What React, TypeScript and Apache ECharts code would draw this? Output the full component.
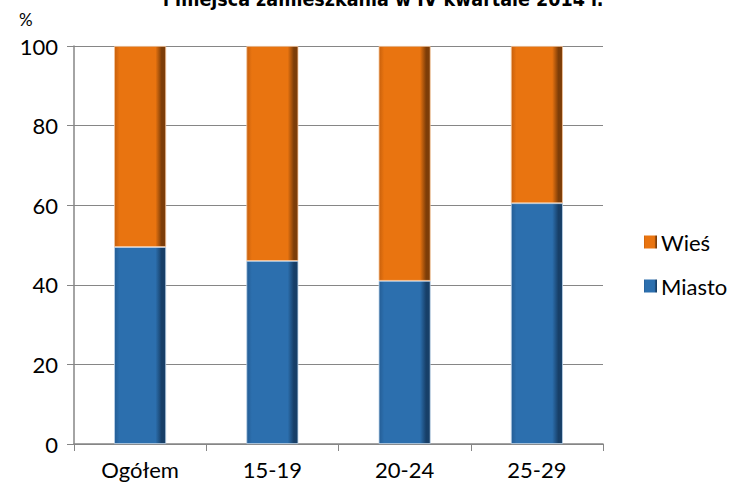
import React, { useEffect, useRef } from "react";
import * as echarts from "echarts";

const categories = ["Ogółem", "15-19", "20-24", "25-29"];
const miasto = [49.5, 46, 41, 60.5];
const wies = [50.5, 54, 59, 39.5];
const yTicks = { min: 0, max: 100, interval: 20 };
const titleText = "i miejsca zamieszkania w IV kwartale 2014 r.";

const font = "Lato, 'Open Sans', sans-serif";

function grad(leftEdge: string, main: string, rightEdge: string) {
  return new echarts.graphic.LinearGradient(0, 0, 1, 0, [
    { offset: 0, color: leftEdge },
    { offset: 0.1, color: main },
    { offset: 0.8, color: main },
    { offset: 0.92, color: rightEdge },
    { offset: 1, color: rightEdge },
  ]);
}

export default function App() {
  const ref = useRef<HTMLDivElement>(null);
  useEffect(() => {
    if (!ref.current) return;
    const chart = echarts.init(ref.current, undefined, { renderer: "svg" });
    const blue = grad("#245d95", "#2c6fae", "#173f68");
    const orange = grad("#c8600c", "#e97410", "#7d3d08");
    chart.setOption({
      animation: false,
      textStyle: { fontFamily: font },
      grid: { left: 74, right: 140, top: 46, bottom: 44, containLabel: false },
      legend: {
        orient: "vertical",
        left: 639,
        top: 226,
        itemGap: 22,
        itemWidth: 13,
        itemHeight: 13,
        itemStyle: { borderWidth: 0 },
        data: [
          { name: "Wieś", icon: "rect" },
          { name: "Miasto", icon: "rect" },
        ],
        textStyle: { fontSize: 22, color: "#000", fontFamily: font, padding: [0, 0, 0, -1] },
      },
      graphic: [
        {
          type: "text",
          left: 163,
          top: -11,
          style: {
            text: titleText,
            font: "bold 19.5px 'Liberation Sans Narrow', 'DejaVu Sans Condensed', sans-serif",
            fill: "#000",
          },
        },
        {
          type: "text",
          left: 19,
          top: 11,
          style: { text: "%", font: "17px " + font, fill: "#000" },
        },
      ],
      xAxis: {
        type: "category",
        data: categories,
        axisLine: { lineStyle: { color: "#868686", width: 1.5 } },
        axisTick: { show: true, length: 7, lineStyle: { color: "#868686" } },
        axisLabel: { fontSize: 22, color: "#000", margin: 14, fontFamily: font },
      },
      yAxis: {
        type: "value",
        min: yTicks.min,
        max: yTicks.max,
        interval: yTicks.interval,
        axisLine: { show: true, lineStyle: { color: "#868686", width: 1.5 } },
        axisTick: { show: true, length: 7, lineStyle: { color: "#868686" } },
        axisLabel: { fontSize: 22, color: "#000", margin: 16, fontFamily: font },
        splitLine: { lineStyle: { color: "#868686", width: 1 } },
      },
      series: [
        {
          name: "Miasto",
          type: "bar",
          stack: "a",
          data: miasto,
          barWidth: 52,
          itemStyle: { color: blue, borderColor: "#bcd3ea", borderWidth: 0.8 },
        },
        {
          name: "Wieś",
          type: "bar",
          stack: "a",
          data: wies,
          barWidth: 52,
          itemStyle: { color: orange, borderColor: "#f6c59a", borderWidth: 0.8 },
        },
      ],
    });
    return () => chart.dispose();
  }, []);
  return (
    <div
      ref={ref}
      style={{ position: "fixed", left: 0, top: 0, width: 743, height: 488, background: "#fff" }}
    />
  );
}
